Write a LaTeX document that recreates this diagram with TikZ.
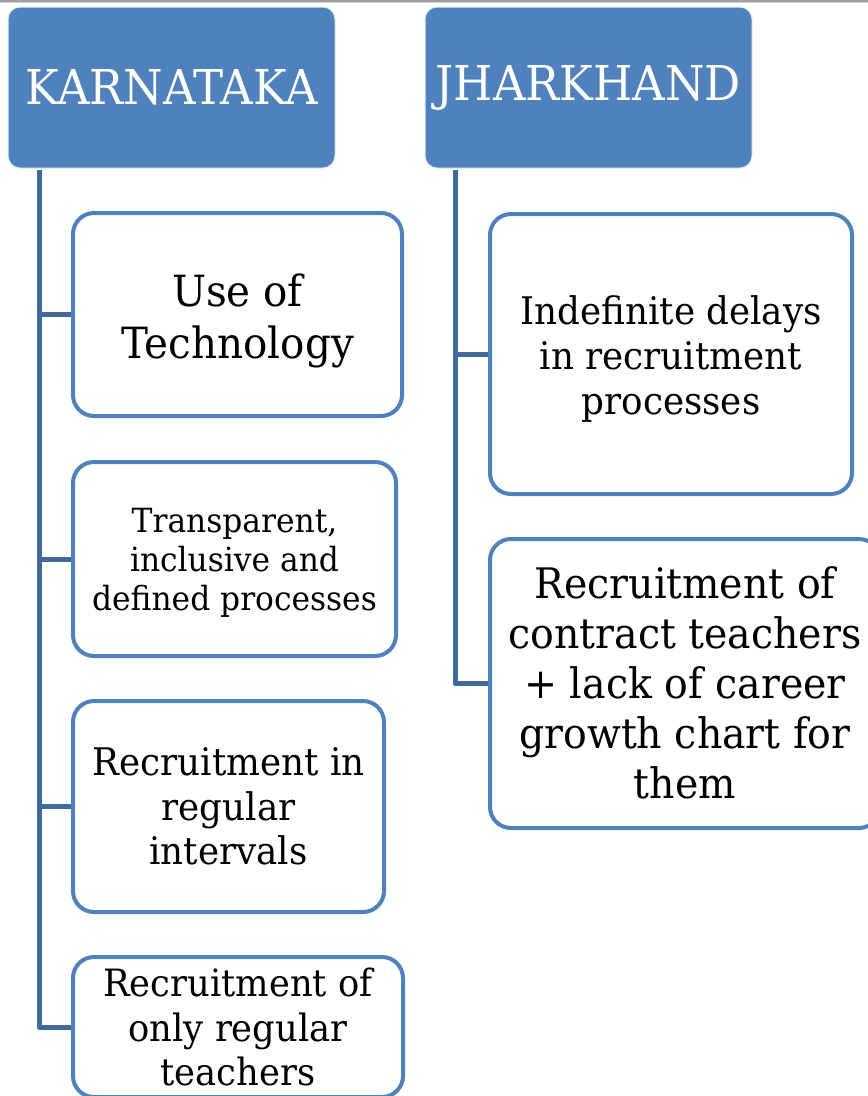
\documentclass[tikz,border=0pt]{standalone}
\usepackage{fontspec}
\setmainfont[FakeStretch=0.94]{DejaVu Serif}
\definecolor{hdrblue}{HTML}{4F81BD}
\definecolor{connblue}{HTML}{41699B}
\begin{document}
\begin{tikzpicture}[x=1pt,y=-1pt,
  hdr/.style={rectangle,rounded corners=12pt,fill=hdrblue,draw=white!85!hdrblue,line width=1pt,
    text=white,inner sep=0pt,minimum width=327pt,minimum height=161pt,align=center,
    font=\fontsize{48}{56}\selectfont},
  itembox/.style={rectangle,rounded corners=21pt,fill=white,draw=hdrblue,line width=4pt,
    inner sep=0pt,align=center,text=black},
  conn/.style={draw=connblue,line width=5pt,line join=round}]
\useasboundingbox (0,0) rectangle (868,1096);
\clip (0,0) rectangle (868,1096);
\fill[white] (0,0) rectangle (868,1096);
\fill[gray!75] (0,0) rectangle (868,1.5);
\fill[gray!35] (0,1.5) rectangle (868,3);

\node[hdr] (K) at (171.5,87.5) {KARNATAKA};
\node[hdr] (J) at (588.5,87.5) {JHARKHAND};

\node[itembox,minimum width=329pt,minimum height=203pt,
  label={[align=center,inner sep=0pt,yshift=-6pt,font=\fontsize{43}{52}\selectfont]center:Use of\\Technology}] (b1) at (237.5,314.5) {};
\node[itembox,minimum width=323pt,minimum height=194pt,
  label={[align=center,inner sep=0pt,yshift=-4pt,font=\fontsize{33.3}{39}\selectfont]center:Transparent,\\inclusive and\\defined processes}] (b2) at (234.5,559) {};
\node[itembox,minimum width=311pt,minimum height=211pt,font=\fontsize{38}{44.5}\selectfont] (b3) at (228.5,806.5) {Recruitment in\\regular\\intervals};
\node[itembox,minimum width=330pt,minimum height=140pt,font=\fontsize{37.6}{44.5}\selectfont] (b4) at (238,1027) {Recruitment of\\only regular\\teachers};

\node[itembox,minimum width=362pt,minimum height=280pt,
  label={[align=center,inner sep=0pt,yshift=-5pt,font=\fontsize{38}{45}\selectfont]center:Indefinite delays\\in recruitment\\processes}] (r1) at (671,354) {};
\node[itembox,minimum width=390pt,minimum height=289pt,
  label={[align=center,inner sep=0pt,yshift=1pt,font=\fontsize{42}{50}\selectfont]center:Recruitment of\\contract teachers\\+ lack of career\\growth chart for\\them}] (r2) at (685,683.5) {};

\coordinate (kx) at (39,170);
\coordinate (jx) at (455,170);
\draw[conn] (kx) |- (b1.west);
\draw[conn] (kx) |- (b2.west);
\draw[conn] (kx) |- (b3.west);
\draw[conn] (kx) |- (b4.west);
\draw[conn] (jx) |- (r1.west);
\draw[conn] (jx) |- (r2.west);
\end{tikzpicture}
\end{document}
